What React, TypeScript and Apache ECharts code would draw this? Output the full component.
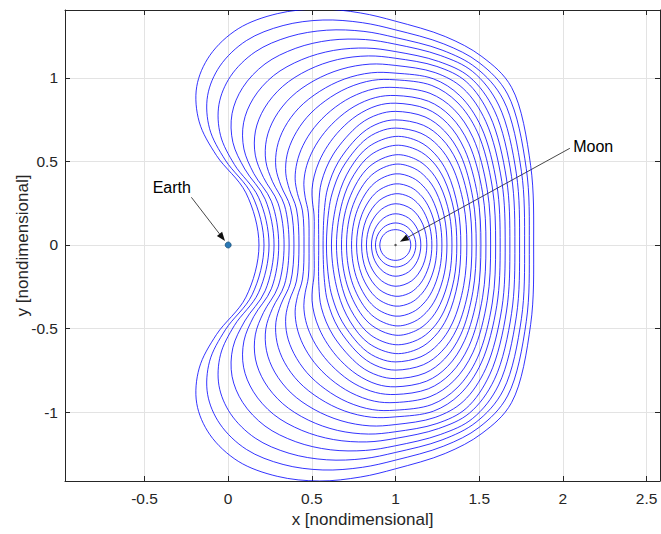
import React, { useEffect, useRef } from "react";
import * as echarts from "echarts";

// ---- Orbit family (data units), ordered outermost -> innermost ----
// x where each orbit crosses y = 0 on the Earth side and on the far side
const crossLeft = [0.184, 0.214, 0.244, 0.274, 0.302, 0.334, 0.364, 0.393, 0.423, 0.453, 0.483, 0.513, 0.541, 0.567, 0.587, 0.617, 0.647, 0.677, 0.707, 0.737, 0.767, 0.797, 0.826, 0.856, 0.88, 0.906];
const crossRight = [1.825, 1.799, 1.771, 1.741, 1.713, 1.683, 1.655, 1.625, 1.598, 1.568, 1.54, 1.51, 1.482, 1.456, 1.426, 1.39, 1.366, 1.337, 1.307, 1.277, 1.247, 1.217, 1.187, 1.151, 1.121, 1.091];
// y where each orbit crosses the vertical line x = 1 (upper half)
const topAtMoon = [1.34, 1.288, 1.242, 1.202, 1.158, 1.118, 1.075, 1.029, 0.989, 0.943, 0.895, 0.849, 0.8, 0.749, 0.7, 0.65, 0.597, 0.54, 0.484, 0.426, 0.366, 0.307, 0.247, 0.187, 0.132, 0.092];
// estimated upper-half points on the Earth-facing side of each orbit
const leftArcs: number[][][] = [
  [[0.106, 0.312], [-0.07, 0.536], [-0.173, 0.737], [-0.188, 0.948], [-0.109, 1.136], [0.06, 1.295], [0.293, 1.385], [0.545, 1.413], [0.792, 1.389]],
  [[0.143, 0.298], [-0.017, 0.508], [-0.111, 0.696], [-0.123, 0.894], [-0.049, 1.072], [0.109, 1.224], [0.328, 1.314], [0.566, 1.347], [0.802, 1.331]],
  [[0.181, 0.286], [0.037, 0.482], [-0.046, 0.657], [-0.055, 0.842], [0.014, 1.01], [0.161, 1.156], [0.364, 1.247], [0.588, 1.286], [0.811, 1.279]],
  [[0.221, 0.274], [0.099, 0.455], [0.028, 0.615], [0.023, 0.786], [0.087, 0.943], [0.22, 1.084], [0.404, 1.178], [0.61, 1.226], [0.82, 1.23]],
  [[0.258, 0.262], [0.153, 0.428], [0.094, 0.575], [0.092, 0.732], [0.151, 0.879], [0.271, 1.014], [0.44, 1.11], [0.63, 1.165], [0.828, 1.179]],
  [[0.298, 0.25], [0.211, 0.404], [0.162, 0.538], [0.163, 0.683], [0.217, 0.82], [0.326, 0.95], [0.478, 1.048], [0.653, 1.11], [0.838, 1.132]],
  [[0.336, 0.239], [0.265, 0.379], [0.225, 0.501], [0.229, 0.633], [0.278, 0.761], [0.376, 0.886], [0.513, 0.984], [0.674, 1.052], [0.847, 1.083]],
  [[0.372, 0.226], [0.316, 0.354], [0.285, 0.463], [0.292, 0.584], [0.336, 0.702], [0.423, 0.821], [0.547, 0.92], [0.693, 0.993], [0.855, 1.031]],
  [[0.408, 0.216], [0.366, 0.332], [0.344, 0.43], [0.352, 0.54], [0.393, 0.65], [0.47, 0.764], [0.58, 0.863], [0.714, 0.941], [0.864, 0.986]],
  [[0.444, 0.204], [0.414, 0.308], [0.4, 0.396], [0.411, 0.494], [0.447, 0.596], [0.515, 0.704], [0.612, 0.803], [0.733, 0.884], [0.873, 0.935]],
  [[0.479, 0.192], [0.46, 0.286], [0.452, 0.363], [0.463, 0.452], [0.496, 0.546], [0.556, 0.648], [0.642, 0.745], [0.752, 0.829], [0.881, 0.883]],
  [[0.513, 0.18], [0.503, 0.264], [0.501, 0.333], [0.514, 0.413], [0.543, 0.499], [0.595, 0.595], [0.671, 0.691], [0.77, 0.776], [0.889, 0.834]],
  [[0.542, 0.244], [0.557, 0.376], [0.629, 0.545], [0.786, 0.723], [0.897, 0.782]],
  [[0.576, 0.224], [0.595, 0.342], [0.659, 0.499], [0.8, 0.67], [0.903, 0.73]],
  [[0.601, 0.207], [0.622, 0.312], [0.68, 0.457], [0.809, 0.622], [0.905, 0.68]],
  [[0.656, 0.285], [0.73, 0.46], [0.84, 0.589]],
  [[0.683, 0.261], [0.752, 0.422], [0.854, 0.541]],
  [[0.721, 0.27], [0.842, 0.468]],
  [[0.747, 0.242], [0.857, 0.419]],
  [[0.773, 0.213], [0.872, 0.369]],
  [[0.799, 0.183], [0.887, 0.317]],
  [[0.825, 0.154], [0.902, 0.266]],
  [[0.85, 0.124], [0.916, 0.214]],
  [[0.876, 0.094], [0.93, 0.162]],
  [[0.896, 0.066], [0.94, 0.114]],
  [[0.918, 0.046], [0.952, 0.08]],
];
// estimated upper-half points on the far side of each orbit
const rightArcs: number[][][] = [
  [[1.807, 0.477], [1.693, 0.944], [1.516, 1.128], [1.297, 1.248]],
  [[1.781, 0.458], [1.669, 0.904], [1.499, 1.092], [1.288, 1.204]],
  [[1.752, 0.441], [1.644, 0.869], [1.481, 1.061], [1.278, 1.167]],
  [[1.722, 0.426], [1.616, 0.838], [1.46, 1.039], [1.267, 1.135]],
  [[1.693, 0.41], [1.591, 0.804], [1.442, 1.006], [1.257, 1.099]],
  [[1.663, 0.395], [1.564, 0.773], [1.422, 0.978], [1.247, 1.069]],
  [[1.635, 0.379], [1.539, 0.74], [1.404, 0.937], [1.237, 1.032]],
  [[1.605, 0.362], [1.512, 0.706], [1.384, 0.894], [1.226, 0.995]],
  [[1.578, 0.347], [1.489, 0.676], [1.367, 0.856], [1.217, 0.955]],
  [[1.548, 0.331], [1.463, 0.642], [1.348, 0.813], [1.206, 0.908]],
  [[1.52, 0.313], [1.438, 0.607], [1.33, 0.769], [1.196, 0.861]],
  [[1.49, 0.297], [1.412, 0.573], [1.311, 0.727], [1.186, 0.815]],
  [[1.462, 0.279], [1.389, 0.538], [1.293, 0.682], [1.176, 0.767]],
  [[1.437, 0.261], [1.366, 0.502], [1.276, 0.637], [1.166, 0.717]],
  [[1.407, 0.243], [1.34, 0.467], [1.256, 0.593], [1.152, 0.669]],
  [[1.372, 0.226], [1.31, 0.432], [1.232, 0.549], [1.138, 0.62]],
  [[1.349, 0.207], [1.29, 0.395], [1.219, 0.502], [1.131, 0.568]],
  [[1.321, 0.187], [1.266, 0.356], [1.201, 0.453], [1.121, 0.513]],
  [[1.292, 0.167], [1.242, 0.318], [1.183, 0.404], [1.111, 0.459]],
  [[1.263, 0.147], [1.217, 0.279], [1.164, 0.354], [1.1, 0.403]],
  [[1.234, 0.126], [1.193, 0.238], [1.146, 0.303], [1.09, 0.346]],
  [[1.205, 0.105], [1.169, 0.199], [1.129, 0.253], [1.079, 0.29]],
  [[1.163, 0.124], [1.097, 0.214]],
  [[1.131, 0.094], [1.077, 0.162]],
  [[1.105, 0.066], [1.061, 0.114]],
  [[1.079, 0.046], [1.045, 0.08]],
];

const earthPos = [0, 0];
const moonPos = [1, 0];

const xTicks = [-0.5, 0, 0.5, 1, 1.5, 2, 2.5];
const yTicks = [-1, -0.5, 0, 0.5, 1];

const X_MIN = -0.975, X_MAX = 2.58, Y_MIN = -1.413, Y_MAX = 1.407;

type P = [number, number];

function buildOrbits(): P[][] {
  const out: P[][] = [];
  for (let k = 0; k < crossLeft.length; k++) {
    const pts: P[] = [[crossRight[k], 0], [crossLeft[k], 0], [1, topAtMoon[k]]];
    (leftArcs[k] || []).forEach((p) => pts.push([p[0], p[1]]));
    (rightArcs[k] || []).forEach((p) => pts.push([p[0], p[1]]));
    const cx = (crossLeft[k] + crossRight[k]) / 2;
    pts.sort((a, b) => Math.atan2(a[1], a[0] - cx) - Math.atan2(b[1], b[0] - cx));
    const lower = pts.slice(1, -1).reverse().map((p) => [p[0], -p[1]] as P);
    out.push(pts.concat(lower));
  }
  return out;
}

function closedSpline(p: number[][]): string {
  const m = p.length;
  const dist = (a: number[], b: number[]) => Math.max(1e-6, Math.sqrt(Math.hypot(a[0] - b[0], a[1] - b[1])));
  let d = `M${p[0][0]},${p[0][1]}`;
  for (let i = 0; i < m; i++) {
    const p0 = p[(i - 1 + m) % m], p1 = p[i], p2 = p[(i + 1) % m], p3 = p[(i + 2) % m];
    const d1 = dist(p0, p1), d2 = dist(p1, p2), d3 = dist(p2, p3);
    const b1 = [0, 1].map((j) => (d1 * d1 * p2[j] - d2 * d2 * p0[j] + (2 * d1 * d1 + 3 * d1 * d2 + d2 * d2) * p1[j]) / (3 * d1 * (d1 + d2)));
    const b2 = [0, 1].map((j) => (d3 * d3 * p1[j] - d2 * d2 * p3[j] + (2 * d3 * d3 + 3 * d3 * d2 + d2 * d2) * p2[j]) / (3 * d3 * (d3 + d2)));
    d += ` C${b1[0]},${b1[1]} ${b2[0]},${b2[1]} ${p2[0]},${p2[1]}`;
  }
  return d + " Z";
}

const FONT = "'Liberation Sans', Arial, Helvetica, sans-serif";
const AX = "#262626";

function fmt(v: number, ticks: number[]) {
  const hit = ticks.find((t) => Math.abs(t - v) < 1e-6);
  return hit === undefined ? "" : String(hit);
}

export default function App() {
  const ref = useRef<HTMLDivElement>(null);
  useEffect(() => {
    document.body.style.margin = "0";
    if (!ref.current) return;
    const chart = echarts.init(ref.current, undefined, { renderer: "svg" });
    const orbits = buildOrbits();
    const axisCommon = {
      type: "value" as const,
      minInterval: 0.5,
      maxInterval: 0.5,
      splitNumber: 7,
      axisLine: { show: true, onZero: false, lineStyle: { color: AX, width: 1 } },
      axisTick: { show: true, inside: true, length: 5, lineStyle: { color: AX } },
    };
    chart.setOption({
      animation: false,
      grid: { left: 65, right: 1, top: 10, bottom: 53, containLabel: false, outerBoundsMode: "none" },
      xAxis: [
        {
          ...axisCommon,
          min: X_MIN,
          max: X_MAX,
          position: "bottom",
          axisLabel: { show: true, margin: 9, fontSize: 15.5, color: AX, fontFamily: FONT, formatter: (v: number) => fmt(v, xTicks), showMinLabel: false, showMaxLabel: false },
          splitLine: { show: true, lineStyle: { color: "#e3e3e3", width: 1 } },
          name: "x [nondimensional]",
          nameLocation: "middle",
          nameGap: 30,
          nameMoveOverlap: false,
          nameTextStyle: { fontSize: 17, color: AX, fontFamily: FONT },
        },
        { ...axisCommon, min: X_MIN, max: X_MAX, position: "top", axisLabel: { show: false }, splitLine: { show: false } },
      ],
      yAxis: [
        {
          ...axisCommon,
          min: Y_MIN,
          max: Y_MAX,
          position: "left",
          axisLabel: { show: true, margin: 7, fontSize: 15.5, color: AX, fontFamily: FONT, formatter: (v: number) => fmt(v, yTicks), showMinLabel: false, showMaxLabel: false },
          splitLine: { show: true, lineStyle: { color: "#e3e3e3", width: 1 } },
          name: "y [nondimensional]",
          nameLocation: "middle",
          nameGap: 34,
          nameMoveOverlap: false,
          nameRotate: 90,
          nameTextStyle: { fontSize: 17, color: AX, fontFamily: FONT },
        },
        { ...axisCommon, min: Y_MIN, max: Y_MAX, position: "right", axisLabel: { show: false }, splitLine: { show: false } },
      ],
      series: [
        {
          type: "custom",
          xAxisIndex: 0,
          yAxisIndex: 0,
          silent: true,
          data: orbits.map((_, i) => [1, 0, i]),
          renderItem: (params: any, api: any) => {
            const k = api.value(2);
            const pix = orbits[k].map((p) => api.coord(p));
            const cs = params.coordSys;
            return {
              type: "path",
              shape: { pathData: closedSpline(pix) },
              style: { fill: "none", stroke: "#0000ff", lineWidth: 0.8 },
              clipPath: { type: "rect", shape: { x: cs.x, y: cs.y, width: cs.width, height: cs.height } },
            };
          },
        },
        {
          type: "scatter",
          xAxisIndex: 0,
          yAxisIndex: 0,
          silent: true,
          symbolSize: 6,
          itemStyle: { color: "#2a78b5", borderColor: "#174e78", borderWidth: 0.8, opacity: 1 },
          data: [earthPos],
        },
        {
          type: "scatter",
          xAxisIndex: 0,
          yAxisIndex: 0,
          silent: true,
          symbolSize: 2.5,
          itemStyle: { color: "#555555", opacity: 1 },
          data: [moonPos],
        },
      ],
    });

    const e = chart.convertToPixel({ xAxisIndex: 0, yAxisIndex: 0 }, earthPos) as number[];
    const m = chart.convertToPixel({ xAxisIndex: 0, yAxisIndex: 0 }, moonPos) as number[];
    const arrow = (sx: number, sy: number, tx: number, ty: number) => {
      const dx = tx - sx, dy = ty - sy, len = Math.hypot(dx, dy);
      const ux = dx / len, uy = dy / len, L = 9, W = 3.3;
      const bx = tx - ux * L, by = ty - uy * L;
      return [
        { type: "line", silent: true, shape: { x1: sx, y1: sy, x2: bx, y2: by }, style: { stroke: "#333333", lineWidth: 0.9 } },
        { type: "polygon", silent: true, shape: { points: [[tx, ty], [bx - uy * W, by + ux * W], [bx + uy * W, by - ux * W]] }, style: { fill: "#111111" } },
      ];
    };
    chart.setOption({
      graphic: [
        { type: "text", silent: true, x: e[0] - 75.5, y: e[1] - 57.5, style: { text: "Earth", fontSize: 16, fontFamily: FONT, fill: "#000000", verticalAlign: "middle", align: "left" } },
        ...arrow(e[0] - 36.8, e[1] - 47.7, e[0] - 3.2, e[1] - 4),
        { type: "text", silent: true, x: m[0] + 177.6, y: m[1] - 98.3, style: { text: "Moon", fontSize: 16, fontFamily: FONT, fill: "#000000", verticalAlign: "middle", align: "left" } },
        ...arrow(m[0] + 174.3, m[1] - 96.7, m[0] + 4.3, m[1] - 3.3),
      ],
    });
    return () => chart.dispose();
  }, []);
  return <div ref={ref} style={{ width: 661, height: 534 }} />;
}
